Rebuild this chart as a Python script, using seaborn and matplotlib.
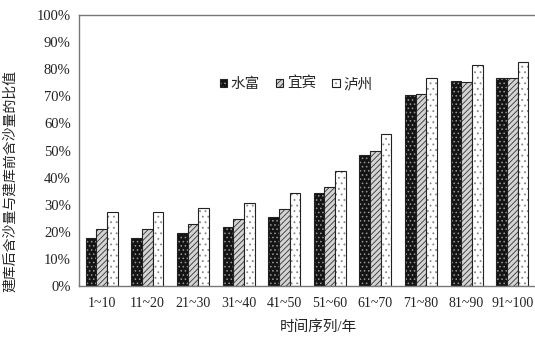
import numpy as np
import pandas as pd
import matplotlib
matplotlib.use('Agg')
import matplotlib.pyplot as plt
import seaborn as sns
from matplotlib.colors import to_rgba
from matplotlib.ticker import PercentFormatter, FixedLocator
from matplotlib.patches import Patch

periods = ['1~10', '11~20', '21~30', '31~40', '41~50', '51~60',
           '61~70', '71~80', '81~90', '91~100']
stations = ['水富', '宜宾', '泸州']
shuifu = [0.177, 0.178, 0.194, 0.217, 0.253, 0.343, 0.483, 0.704, 0.755, 0.769]
yibin = [0.210, 0.211, 0.228, 0.248, 0.283, 0.366, 0.498, 0.707, 0.753, 0.767]
luzhou = [0.273, 0.272, 0.287, 0.307, 0.343, 0.424, 0.561, 0.769, 0.814, 0.828]

face_colors = ['#141414', '#d4d4d4', '#ffffff']
hatches = ['....', '//////', '...']
hatch_colors = ['#9a9a9a', '#333333', '#888888']

df = pd.DataFrame({
    'period': periods * 3,
    'station': [s for s in stations for _ in periods],
    'ratio': shuifu + yibin + luzhou,
})

sns.set_style('white')
plt.rcParams['font.family'] = ['Liberation Serif', 'Noto Sans CJK SC']
plt.rcParams['hatch.linewidth'] = 0.6


def style_patch(p, h, hc):
    p.set_hatch(h)
    p.set_edgecolor('#222222')
    # hatch colour normally follows the edge colour
    p._hatch_color = to_rgba(hc)


fig = plt.figure(figsize=(5.35, 3.39), dpi=100)
ax = fig.add_axes([79 / 535, 53 / 339, 456 / 535, 271 / 339])

sns.barplot(data=df, x='period', y='ratio', hue='station', order=periods,
            hue_order=stations, palette=face_colors, saturation=1,
            width=0.70, gap=0, edgecolor='#222222', linewidth=0.8,
            legend=False, ax=ax)

for cont, h, hc in zip(ax.containers, hatches, hatch_colors):
    for bar in cont:
        style_patch(bar, h, hc)

ax.set_ylim(0, 1)
ax.set_xlim(-0.5, len(periods) - 0.5)
ax.yaxis.set_major_locator(FixedLocator(np.arange(0, 1.01, 0.1)))
ax.yaxis.set_major_formatter(PercentFormatter(1.0, decimals=0))
ax.xaxis.set_minor_locator(FixedLocator(np.arange(0.5, len(periods) - 0.5, 1)))
ax.tick_params(axis='x', which='major', length=0, labelsize=10, pad=8, colors='#222222')
ax.tick_params(axis='x', which='minor', direction='in', length=3, width=0.6, color='#888888')
ax.tick_params(axis='y', direction='in', length=3, width=0.6, labelsize=10.5,
               pad=6, color='#888888', labelcolor='#222222')

for side in ['top', 'left', 'bottom']:
    ax.spines[side].set_color('#777777')
    ax.spines[side].set_linewidth(1.0)
ax.spines['right'].set_visible(False)

ax.set_xlabel('时间序列/年', fontsize=10.5, color='#222222')
ax.xaxis.set_label_coords(0.525, -0.125)
ax.set_ylabel('建库后含沙量与建库前含沙量的比值', fontsize=10, color='#222222')
ax.yaxis.set_label_coords(-0.135, 0.387)

handles = []
for fc, h, hc in zip(face_colors, hatches, hatch_colors):
    p = Patch(facecolor=fc, linewidth=0.8)
    style_patch(p, h, hc)
    handles.append(p)
ax.legend(handles, stations, ncol=3, frameon=False, loc='center left',
          bbox_to_anchor=(0.28, 0.745), handlelength=0.5, handleheight=0.5,
          handletextpad=0.25, columnspacing=1.1, fontsize=10.5)

fig.savefig('out.png', dpi=100, facecolor='white')
